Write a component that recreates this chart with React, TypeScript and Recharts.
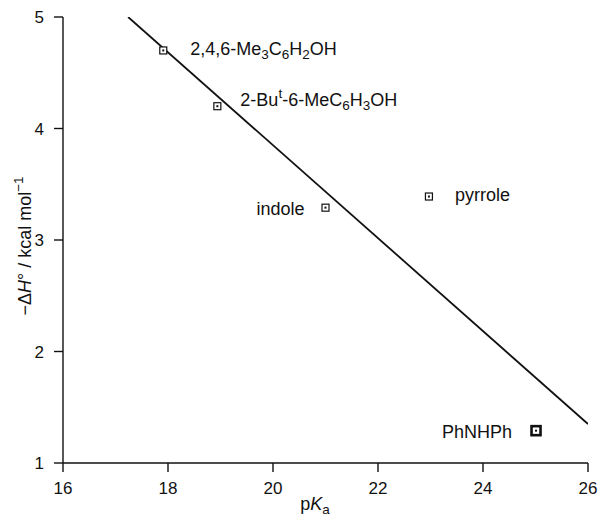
import React from "react";
import {
  Line,
  ComposedChart,
  Scatter,
  XAxis,
  YAxis,
} from "recharts";

const compounds = ["2,4,6-Me3C6H2OH", "2-But-6-MeC6H3OH", "indole", "pyrrole", "PhNHPh"];
const pKaValues = [17.91, 18.94, 21.0, 22.97, 25.01];
const enthalpyValues = [4.7, 4.2, 3.29, 3.39, 1.29];

const fitPKa = [17.24, 26];
const fitEnthalpy = [5.0, 1.35];

const xTicks = [16, 18, 20, 22, 24, 26];
const yTicks = [1, 2, 3, 4, 5];

// text pieces: [text, "n" | "sub" | "sup"]
type Piece = [string, "n" | "sub" | "sup"];
const labelPieces: Record<string, Piece[]> = {
  "2,4,6-Me3C6H2OH": [["2,4,6-Me", "n"], ["3", "sub"], ["C", "n"], ["6", "sub"], ["H", "n"], ["2", "sub"], ["OH", "n"]],
  "2-But-6-MeC6H3OH": [["2-Bu", "n"], ["t", "sup"], ["-6-MeC", "n"], ["6", "sub"], ["H", "n"], ["3", "sub"], ["OH", "n"]],
  indole: [["indole", "n"]],
  pyrrole: [["pyrrole", "n"]],
  PhNHPh: [["PhNHPh", "n"]],
};

// where each label sits relative to its marker
const labelPlace: Record<string, { dx: number; dy: number; anchor: "start" | "end" }> = {
  "2,4,6-Me3C6H2OH": { dx: 27, dy: -1, anchor: "start" },
  "2-But-6-MeC6H3OH": { dx: 23, dy: -6, anchor: "start" },
  indole: { dx: -21, dy: 1, anchor: "end" },
  pyrrole: { dx: 26, dy: -2, anchor: "start" },
  PhNHPh: { dx: -24, dy: 1, anchor: "end" },
};

const points = compounds.map((name, i) => ({ name, x: pKaValues[i], y: enthalpyValues[i] }));
const fit = fitPKa.map((x, i) => ({ x, fy: fitEnthalpy[i] }));

const FONT = "'Liberation Sans', Arial, sans-serif";
const FS = 18;
const SMALL = 13.5;

function RichText({ pieces, x, y, anchor }: { pieces: Piece[]; x: number; y: number; anchor: string }) {
  let shift = 0;
  return (
    <text x={x} y={y} textAnchor={anchor} dominantBaseline="central" fontSize={FS} fontFamily={FONT} fill="#111">
      {pieces.map(([t, kind], i) => {
        const target = kind === "sub" ? 5 : kind === "sup" ? -7 : 0;
        const dy = target - shift;
        shift = target;
        return (
          <tspan key={i} dy={dy} fontSize={kind === "n" ? FS : SMALL}>
            {t}
          </tspan>
        );
      })}
    </text>
  );
}

function Marker(props: any) {
  const { cx, cy, payload } = props;
  const bold = payload.name === "PhNHPh";
  const place = labelPlace[payload.name];
  const s = bold ? 9 : 7;
  return (
    <g>
      <rect
        x={cx - s / 2}
        y={cy - s / 2}
        width={s}
        height={s}
        fill="#fff"
        stroke="#111"
        strokeWidth={bold ? 2.6 : 1.2}
      />
      <rect x={cx - 1} y={cy - 1} width={2} height={2} fill="#111" />
      <RichText pieces={labelPieces[payload.name]} x={cx + place.dx} y={cy + place.dy} anchor={place.anchor} />
    </g>
  );
}

function YLabel() {
  const cx = 25;
  const cy = 246;
  return (
    <text
      transform={`translate(${cx},${cy}) rotate(-90)`}
      textAnchor="middle"
      dominantBaseline="central"
      fontSize={FS}
      fontFamily={FONT}
      fill="#111"
    >
      <tspan>−Δ</tspan>
      <tspan fontStyle="italic">H</tspan>
      <tspan>° / kcal mol</tspan>
      <tspan dy={-7} fontSize={SMALL}>−1</tspan>
    </text>
  );
}

function XLabel() {
  return (
    <text x={315} y={504} textAnchor="middle" dominantBaseline="central" fontSize={FS} fontFamily={FONT} fill="#111">
      <tspan>p</tspan>
      <tspan fontStyle="italic">K</tspan>
      <tspan dy={5} fontSize={SMALL}>a</tspan>
    </text>
  );
}

export default function App() {
  const tick = { fontSize: 17, fontFamily: FONT, fill: "#111" };
  return (
    <div style={{ position: "absolute", left: 0, top: 0, background: "#fff" }}>
      <ComposedChart width={601} height={525} margin={{ top: 17, right: 13, bottom: 22, left: 23 }}>
        <XAxis
          type="number"
          dataKey="x"
          domain={[16, 26]}
          ticks={xTicks}
          allowDataOverflow
          stroke="#111"
          strokeWidth={1.4}
          tick={tick}
          tickSize={9}
          tickMargin={10}
          height={40}
          label={<XLabel />}
        />
        <YAxis
          type="number"
          domain={[1, 5]}
          ticks={yTicks}
          allowDataOverflow
          stroke="#111"
          strokeWidth={1.4}
          tick={tick}
          tickSize={9}
          tickMargin={10}
          width={40}
          label={<YLabel />}
        />
        <Line
          data={fit}
          dataKey="fy"
          type="linear"
          stroke="#111"
          strokeWidth={1.8}
          dot={false}
          activeDot={false}
          isAnimationActive={false}
        />
        <Scatter data={points} dataKey="y" shape={<Marker />} isAnimationActive={false} />
      </ComposedChart>
    </div>
  );
}
